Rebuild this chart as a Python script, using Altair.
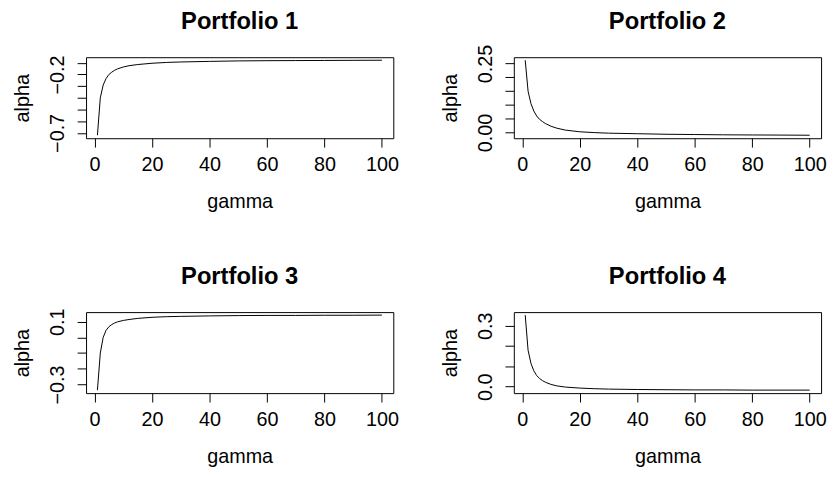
import altair as alt
import pandas as pd

FONT = "Liberation Sans, Arial, Helvetica, sans-serif"

# gamma grid (x values)
gamma = [1, 2, 3, 4, 5, 6, 7, 8, 10, 12, 15, 20, 25, 30, 40, 50, 60, 70, 80, 90, 100]

# alpha values
alpha_p1 = [-0.72, -0.40, -0.29, -0.235, -0.20, -0.18, -0.164, -0.152, -0.136, -0.125, -0.115,
            -0.104, -0.097, -0.093, -0.088, -0.084, -0.082, -0.081, -0.080, -0.079, -0.078]
alpha_p2 = [0.262, 0.15, 0.105, 0.078, 0.06, 0.048, 0.040, 0.033, 0.023, 0.016, 0.009,
            0.003, 0.0, -0.002, -0.004, -0.006, -0.007, -0.008, -0.0085, -0.009, -0.0095]
alpha_p3 = [-0.336, -0.10, 0.0, 0.045, 0.068, 0.082, 0.092, 0.099, 0.108, 0.114, 0.121,
            0.128, 0.132, 0.134, 0.137, 0.139, 0.140, 0.140, 0.141, 0.141, 0.142]
alpha_p4 = [0.353, 0.18, 0.115, 0.078, 0.055, 0.04, 0.03, 0.022, 0.011, 0.004, -0.002,
            -0.007, -0.010, -0.012, -0.014, -0.015, -0.016, -0.016, -0.017, -0.017, -0.017]

titles = ["Portfolio 1", "Portfolio 2", "Portfolio 3", "Portfolio 4"]

# axis ticks and the labels R kept
x_ticks = [0, 20, 40, 60, 80, 100]
y_ticks = [
    [-0.7, -0.6, -0.5, -0.4, -0.3, -0.2, -0.1],
    [0.0, 0.05, 0.10, 0.15, 0.20, 0.25],
    [-0.3, -0.2, -0.1, 0.0, 0.1],
    [0.0, 0.1, 0.2, 0.3],
]
y_shown = [[-0.7, -0.2], [0.0, 0.25], [-0.3, 0.1], [0.0, 0.3]]
y_formats = [".1f", ".2f", ".1f", ".1f"]

W, H = 311, 82


def r_domain(vals):
    lo, hi = min(vals), max(vals)
    pad = 0.04 * (hi - lo)
    return [lo - pad, hi + pad]


def panel(vals, title, ticks, shown, fmt):
    df = pd.DataFrame({"gamma": gamma, "alpha": vals})
    expr = " || ".join(f"abs(datum.value - ({v})) < 1e-9" for v in shown)
    line = (
        alt.Chart(df)
        .mark_line(color="black", strokeWidth=1)
        .encode(
            x=alt.X(
                "gamma:Q",
                scale=alt.Scale(domain=r_domain(gamma), nice=False, zero=False),
                axis=alt.Axis(
                    values=x_ticks, title="gamma", labelBaseline="alphabetic",
                    labelPadding=24, labelFlush=False, labelOverlap=False,
                    titleX=W / 2, titleY=70, titleBaseline="alphabetic", titleAlign="center",
                ),
            ),
            y=alt.Y(
                "alpha:Q",
                scale=alt.Scale(domain=r_domain(vals), nice=False, zero=False),
                axis=alt.Axis(
                    values=ticks, format=fmt, labelExpr=f"({expr}) ? datum.label : ''",
                    labelAngle=270, labelAlign="center", labelBaseline="alphabetic",
                    labelPadding=14, labelOverlap=False, labelFlush=False,
                    title="alpha", titleAngle=270, titleX=-58, titleY=H / 2,
                    titleBaseline="alphabetic", titleAlign="center",
                ),
            ),
        )
    )
    head = (
        alt.Chart(pd.DataFrame({"t": [title]}))
        .mark_text(font=FONT, fontSize=24, fontWeight="bold", color="black",
                   align="center", baseline="alphabetic")
        .encode(text="t:N", x=alt.value(W / 2), y=alt.value(-28.7))
    )
    return alt.layer(line, head).properties(width=W, height=H)


panels = [
    panel(v, t, tk, sh, f)
    for v, t, tk, sh, f in zip(
        [alpha_p1, alpha_p2, alpha_p3, alpha_p4], titles, y_ticks, y_shown, y_formats
    )
]

chart = (
    alt.concat(*panels, columns=2, spacing={"row": 176, "column": 122}, bounds="flush")
    .properties(padding={"left": 4, "top": -2, "right": 0, "bottom": 0}, background="white")
    .configure_view(stroke="black", strokeWidth=1)
    .configure_axis(
        labelFont=FONT, titleFont=FONT, labelColor="black", titleColor="black",
        labelFontSize=20, titleFontSize=20, titleFontWeight="normal",
        tickColor="black", tickSize=9, tickWidth=1, domain=False, grid=False,
    )
)

chart.save("out.html", embed_options={"renderer": "svg", "actions": False})
